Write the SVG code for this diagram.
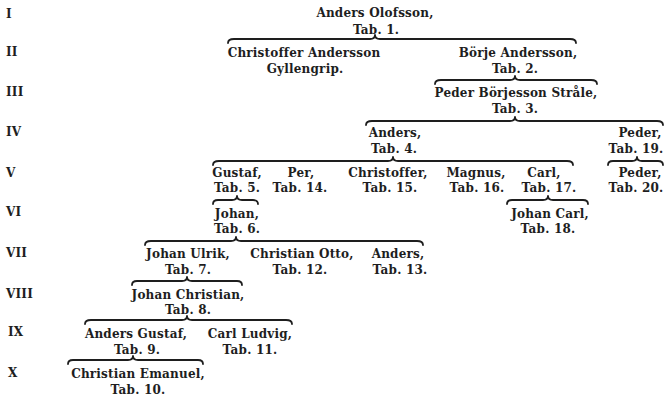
<svg xmlns="http://www.w3.org/2000/svg" width="668" height="400" viewBox="0 0 668 400">
<style>
text{font-family:"DejaVu Serif","Liberation Serif",serif;font-weight:bold;font-size:12px;letter-spacing:0.2px;fill:#1e1e1e;text-anchor:middle}
.gen{text-anchor:start}
.brace{fill:none;stroke:#1e1e1e;stroke-width:1.8;stroke-linejoin:round;stroke-linecap:round}
</style>
<rect width="668" height="400" fill="#fff"/>
<g id="generations">
<text class="gen" x="6" y="18">I</text>
<text class="gen" x="6" y="56">II</text>
<text class="gen" x="6" y="96">III</text>
<text class="gen" x="6" y="136">IV</text>
<text class="gen" x="6" y="177">V</text>
<text class="gen" x="6" y="216">VI</text>
<text class="gen" x="6" y="257">VII</text>
<text class="gen" x="6" y="298">VIII</text>
<text class="gen" x="8" y="336">IX</text>
<text class="gen" x="8" y="377">X</text>
</g>
<g id="connectors">
<path class="brace" d="M228,43 Q228,39 234,39 L370,39 Q375,39 375,35 Q375,39 380,39 L570,39 Q576,39 576,43"/>
<path class="brace" d="M435,84 Q435,80 441,80 L510,80 Q515,80 515,76 Q515,80 520,80 L591,80 Q597,80 597,84"/>
<path class="brace" d="M366,125 Q366,121 372,121 L510,121 Q515,121 515,117 Q515,121 520,121 L657,121 Q663,121 663,125"/>
<path class="brace" d="M213,165 Q213,161 219,161 L388,161 Q393,161 393,157 Q393,161 398,161 L567,161 Q573,161 573,165"/>
<path class="brace" d="M608,165 Q608,161 613,161 L632,161 Q637,161 637,157 Q637,161 642,161 L658,161 Q663,161 663,165"/>
<path class="brace" d="M213,204 Q213,200 218,200 L232,200 Q237,200 237,196 Q237,200 242,200 L253,200 Q258,200 258,204"/>
<path class="brace" d="M507,204 Q507,200 512,200 L543,200 Q548,200 548,196 Q548,200 553,200 L583,200 Q588,200 588,204"/>
<path class="brace" d="M145,245 Q145,241 151,241 L231,241 Q236,241 236,237 Q236,241 241,241 L417,241 Q423,241 423,245"/>
<path class="brace" d="M132,285 Q132,281 137,281 L182,281 Q187,281 187,277 Q187,281 192,281 L237,281 Q242,281 242,285"/>
<path class="brace" d="M85,324 Q85,320 91,320 L182,320 Q187,320 187,316 Q187,320 192,320 L286,320 Q292,320 292,324"/>
<path class="brace" d="M68,364 Q68,360 73,360 L128,360 Q133,360 133,356 Q133,360 138,360 L198,360 Q203,360 203,364"/>
</g>
<g id="n-anders-olofsson"><text x="375" y="17">Anders Olofsson,</text><text x="376" y="34">Tab. 1.</text></g>
<g id="n-christoffer-gyllengrip"><text x="304" y="57">Christoffer Andersson</text><text x="305" y="73">Gyllengrip.</text></g>
<g id="n-borje"><text x="518" y="57">Börje Andersson,</text><text x="515" y="73">Tab. 2.</text></g>
<g id="n-peder-strale"><text x="516" y="97">Peder Börjesson Stråle,</text><text x="515" y="113">Tab. 3.</text></g>
<g id="n-anders-4"><text x="395" y="137">Anders,</text><text x="394" y="153">Tab. 4.</text></g>
<g id="n-peder-19"><text x="640" y="137">Peder,</text><text x="636" y="153">Tab. 19.</text></g>
<g id="n-gustaf-5"><text x="237" y="177">Gustaf,</text><text x="237" y="192">Tab. 5.</text></g>
<g id="n-per-14"><text x="301" y="177">Per,</text><text x="300" y="192">Tab. 14.</text></g>
<g id="n-christoffer-15"><text x="388" y="177">Christoffer,</text><text x="390" y="192">Tab. 15.</text></g>
<g id="n-magnus-16"><text x="476" y="177">Magnus,</text><text x="477" y="192">Tab. 16.</text></g>
<g id="n-carl-17"><text x="544" y="177">Carl,</text><text x="549" y="192">Tab. 17.</text></g>
<g id="n-peder-20"><text x="640" y="177">Peder,</text><text x="636" y="192">Tab. 20.</text></g>
<g id="n-johan-6"><text x="237" y="218">Johan,</text><text x="237" y="233">Tab. 6.</text></g>
<g id="n-johan-carl-18"><text x="550" y="218">Johan Carl,</text><text x="548" y="233">Tab. 18.</text></g>
<g id="n-johan-ulrik-7"><text x="188" y="258">Johan Ulrik,</text><text x="188" y="274">Tab. 7.</text></g>
<g id="n-christian-otto-12"><text x="302" y="258">Christian Otto,</text><text x="300" y="274">Tab. 12.</text></g>
<g id="n-anders-13"><text x="398" y="258">Anders,</text><text x="400" y="274">Tab. 13.</text></g>
<g id="n-johan-christian-8"><text x="188" y="299">Johan Christian,</text><text x="188" y="314">Tab. 8.</text></g>
<g id="n-anders-gustaf-9"><text x="136" y="338">Anders Gustaf,</text><text x="137" y="354">Tab. 9.</text></g>
<g id="n-carl-ludvig-11"><text x="250" y="338">Carl Ludvig,</text><text x="250" y="354">Tab. 11.</text></g>
<g id="n-christian-emanuel-10"><text x="138" y="378">Christian Emanuel,</text><text x="138" y="394">Tab. 10.</text></g>
</svg>
